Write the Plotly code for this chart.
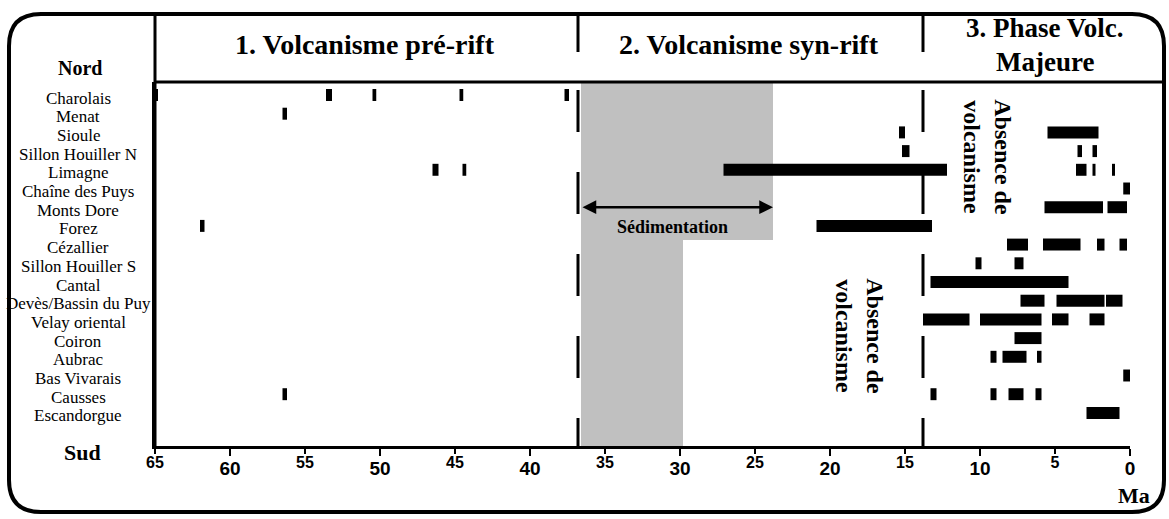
import plotly.graph_objects as go

# ---------------- data ----------------
sites = ["Charolais", "Menat", "Sioule", "Sillon Houiller N", "Limagne",
         "Chaîne des Puys", "Monts Dore", "Forez", "Cézallier",
         "Sillon Houiller S", "Cantal", "Devès/Bassin du Puy", "Velay oriental",
         "Coiron", "Aubrac", "Bas Vivarais", "Causses", "Escandorgue"]

# volcanic episodes: site, oldest age (Ma), youngest age (Ma)
bar_site = ["Charolais"] * 5 + ["Menat"] + ["Sioule"] * 2 + ["Sillon Houiller N"] * 3 \
    + ["Limagne"] * 6 + ["Chaîne des Puys"] + ["Monts Dore"] * 2 + ["Forez"] * 2 \
    + ["Cézallier"] * 4 + ["Sillon Houiller S"] * 2 + ["Cantal"] \
    + ["Devès/Bassin du Puy"] * 3 + ["Velay oriental"] * 4 + ["Coiron"] \
    + ["Aubrac"] * 3 + ["Bas Vivarais"] + ["Causses"] * 5 + ["Escandorgue"]
bar_old = [65.0, 53.6, 50.5, 44.7, 37.7,
           56.5,
           15.4, 5.5,
           15.2, 3.5, 2.5,
           46.5, 44.5, 27.1, 3.6, 2.5, 1.2,
           0.45,
           5.7, 1.5,
           62.0, 20.9,
           8.2, 5.8, 2.2, 0.7,
           10.3, 7.7,
           13.3,
           7.3, 4.9, 1.6,
           13.8, 10.0, 5.2, 2.7,
           7.7,
           9.3, 8.5, 6.2,
           0.45,
           56.5, 13.3, 9.3, 8.1, 6.3,
           2.9]
bar_young = [64.8, 53.2, 50.25, 44.45, 37.4,
             56.2,
             15.0, 2.1,
             14.7, 3.2, 2.2,
             46.1, 44.25, 12.2, 2.9, 2.3, 1.0,
             0.0,
             1.8, 0.2,
             61.7, 13.2,
             6.8, 3.3, 1.7, 0.2,
             9.9, 7.1,
             4.1,
             5.7, 1.7, 0.5,
             10.7, 5.9, 4.1, 1.7,
             5.9,
             8.9, 6.9, 5.9,
             0.0,
             56.2, 12.9, 8.9, 7.1, 5.9,
             0.7]

phase_bounds = [36.8, 13.8]            # limits between the three phases (Ma)
sed_old = 36.6                          # start of sedimentation (Ma)
sed_young_north = 23.8                  # end of sedimentation, northern sites
sed_young_south = 29.8                  # end of sedimentation, southern sites
sed_split_row = 7.75                    # row boundary between north / south
major_ticks = [60, 50, 40, 30, 20, 10, 0]
minor_ticks = [65, 55, 45, 35, 25, 15, 5]

# ---------------- helpers (pixel -> paper) ----------------
L, R, T, B = 155, 1130, 82, 446
W, H = 1169, 519


def px(x):
    return (x - L) / (R - L)


def py(y):
    return (B - y) / (B - T)


row_top = -0.695
row_bot = 18.77

serif = "Liberation Serif"
sans = "Liberation Sans"

row_index = {s: i for i, s in enumerate(sites)}

fig = go.Figure()
fig.add_trace(go.Bar(
    orientation="h",
    y=[row_index[s] for s in bar_site],
    x=[o - y for o, y in zip(bar_old, bar_young)],
    base=bar_young,
    width=0.64,
    marker=dict(color="black", line=dict(width=0)),
    hoverinfo="skip",
    showlegend=False,
))
# carrier trace so the secondary (minor tick) axis is drawn
fig.add_trace(go.Scatter(x=minor_ticks, y=[None] * len(minor_ticks), xaxis="x2",
                         mode="markers", hoverinfo="skip", showlegend=False))

shapes = []
# sedimentation (grey) area
shapes.append(dict(type="rect", xref="x", yref="y", x0=sed_old, x1=sed_young_north,
                   y0=row_top, y1=sed_split_row, fillcolor="#c0c0c0",
                   line=dict(width=0), layer="below"))
shapes.append(dict(type="rect", xref="x", yref="y", x0=sed_old, x1=sed_young_south,
                   y0=sed_split_row, y1=row_bot, fillcolor="#c0c0c0",
                   line=dict(width=0), layer="below"))
# dashed phase limits inside plot
for b in phase_bounds:
    shapes.append(dict(type="line", xref="x", yref="paper", x0=b, x1=b,
                       y0=py(90), y1=py(446),
                       line=dict(color="black", width=3, dash="42px,40px")))
    shapes.append(dict(type="line", xref="x", yref="paper", x0=b, x1=b,
                       y0=py(14), y1=py(52),
                       line=dict(color="black", width=3)))
# header line and left line
shapes.append(dict(type="line", xref="paper", yref="paper", x0=px(155), x1=px(1164),
                   y0=py(82), y1=py(82), line=dict(color="black", width=3)))
shapes.append(dict(type="line", xref="paper", yref="paper", x0=px(155), x1=px(155),
                   y0=py(14), y1=py(446), line=dict(color="black", width=3)))
# rounded outer frame
r = 32
x0, y0, x1, y1 = 9, 14, 1164, 512
path = (f"M {px(x0 + r)},{py(y0)} L {px(x1 - r)},{py(y0)} "
        f"Q {px(x1)},{py(y0)} {px(x1)},{py(y0 + r)} L {px(x1)},{py(y1 - r)} "
        f"Q {px(x1)},{py(y1)} {px(x1 - r)},{py(y1)} L {px(x0 + r)},{py(y1)} "
        f"Q {px(x0)},{py(y1)} {px(x0)},{py(y1 - r)} L {px(x0)},{py(y0 + r)} "
        f"Q {px(x0)},{py(y0)} {px(x0 + r)},{py(y0)} Z")
shapes.append(dict(type="path", xref="paper", yref="paper", path=path,
                   line=dict(color="black", width=4)))

ann = []
# site labels
for i, s in enumerate(sites):
    ann.append(dict(x=px(78), xref="paper", y=i, yref="y", text=s, showarrow=False,
                    xanchor="center", yanchor="middle", yshift=-3,
                    font=dict(family=serif, size=17, color="black")))


def ptext(txt, x, y, size, **kw):
    ann.append(dict(x=px(x), y=py(y), xref="paper", yref="paper", text=txt,
                    showarrow=False, xanchor="center", yanchor="middle",
                    font=dict(family=serif, size=size, color="black", weight="bold"),
                    **kw))


ptext("Nord", 80, 68, 20)
ptext("Sud", 82, 452, 22)
ptext("Ma", 1134, 495, 22)
ptext("1. Volcanisme pré-rift", 365, 45, 28)
ptext("2. Volcanisme syn-rift", 749, 45, 28)
ptext("3. Phase Volc.", 1045, 28, 27)
ptext("Majeure", 1045, 62, 27)

# sedimentation arrow + label
ann.append(dict(x=sed_young_north, y=6.0, xref="x", yref="y",
                ax=sed_old, ay=6.0, axref="x", ayref="y", text="",
                showarrow=True, arrowhead=2, arrowside="end+start",
                arrowsize=1.1, arrowwidth=2.5, arrowcolor="black"))
ann.append(dict(x=30.5, y=7.06, xref="x", yref="y", text="Sédimentation",
                showarrow=False, font=dict(family=serif, size=18, color="black",
                                            weight="bold")))
# absence de volcanisme
for xa, ya in [(9.5, 3.3), (18.0, 12.9)]:
    ann.append(dict(x=xa, y=ya, xref="x", yref="y", text="Absence de<br>volcanisme",
                    textangle=90, showarrow=False,
                    font=dict(family=serif, size=24, color="black", weight="bold")))

fig.update_layout(
    width=W, height=H,
    margin=dict(l=L, r=W - R, t=T, b=H - B),
    paper_bgcolor="white", plot_bgcolor="white",
    barmode="overlay",
    showlegend=False,
    shapes=shapes,
    annotations=ann,
    xaxis=dict(range=[65, 0], tickmode="array", tickvals=major_ticks,
               ticktext=[str(v) for v in major_ticks],
               ticks="outside", ticklen=7, tickwidth=2, tickcolor="black",
               tickfont=dict(family=sans, size=19, color="black", weight="bold"),
               ticklabelstandoff=-4,
               showline=True, linewidth=3, linecolor="black",
               showgrid=False, zeroline=False, fixedrange=True),
    xaxis2=dict(range=[65, 0], overlaying="x", anchor="y", side="bottom",
                tickmode="array", tickvals=minor_ticks,
                ticktext=[str(v) for v in minor_ticks],
                ticks="outside", ticklen=7, tickwidth=2, tickcolor="black",
                tickfont=dict(family=sans, size=16, color="black", weight="bold"),
                ticklabelstandoff=-5,
                showline=False, showgrid=False, zeroline=False, fixedrange=True),
    yaxis=dict(range=[row_bot, row_top], showticklabels=False, ticks="",
               showline=True, linewidth=3, linecolor="black",
               showgrid=False, zeroline=False, fixedrange=True),
)

fig.write_html("out.html", config={"displayModeBar": False},
               post_script="document.body.style.margin='0px';")
